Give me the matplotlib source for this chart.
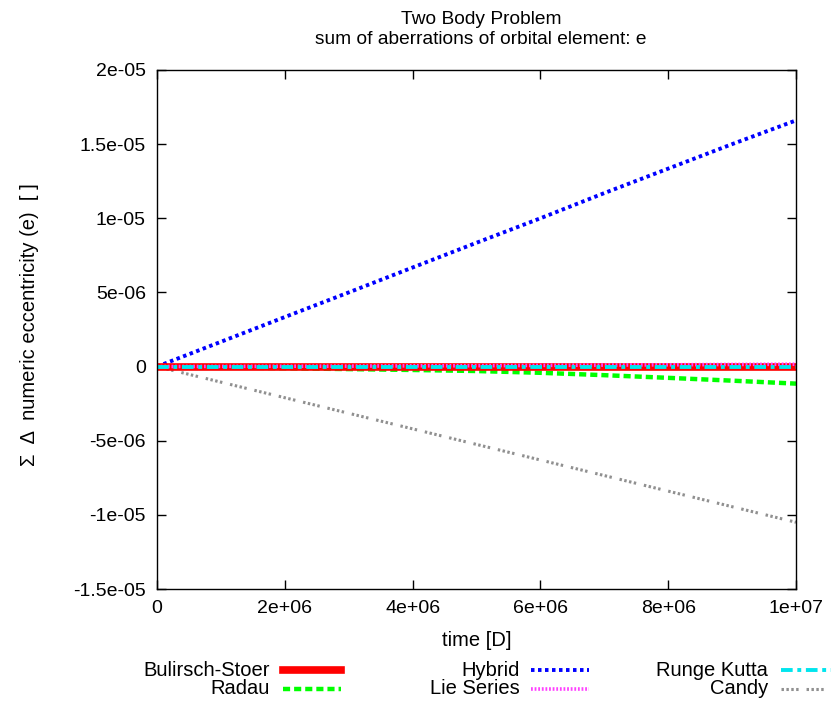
import matplotlib
matplotlib.use("Agg")
from matplotlib import pyplot as plt
from matplotlib.lines import Line2D
from matplotlib.ticker import FormatStrFormatter, MultipleLocator

plt.rcParams['font.family'] = ['Liberation Sans', 'DejaVu Sans']
FS = 14.5

# time in days
time = [0, 1e6, 2e6, 3e6, 4e6, 5e6, 6e6, 7e6, 8e6, 9e6, 1e7]

# sum of eccentricity aberrations per integrator
bulirsch_stoer = [0, 0, 0, 0, 0, 0, 0, 0, 0, 0, 0]
radau = [0, -0.05e-6, -0.11e-6, -0.17e-6, -0.23e-6, -0.30e-6, -0.42e-6, -0.58e-6, -0.76e-6, -0.95e-6, -1.15e-6]
hybrid = [0, 1.67e-6, 3.34e-6, 5.0e-6, 6.68e-6, 8.35e-6, 10.0e-6, 11.7e-6, 13.35e-6, 15.0e-6, 16.6e-6]
lie_series = [0, 0.01e-6, 0.02e-6, 0.03e-6, 0.05e-6, 0.06e-6, 0.08e-6, 0.1e-6, 0.12e-6, 0.14e-6, 0.16e-6]
runge_kutta = [0, 0, 0, 0, 0, 0, 0, 0, 0, 0, 0]
candy = [0, -1.05e-6, -2.1e-6, -3.15e-6, -4.2e-6, -5.25e-6, -6.3e-6, -7.35e-6, -8.4e-6, -9.45e-6, -10.5e-6]

labels = ["Bulirsch-Stoer", "Radau", "Hybrid", "Lie Series", "Runge Kutta", "Candy"]
series = [bulirsch_stoer, radau, hybrid, lie_series, runge_kutta, candy]
styles = [
    dict(color="#ff0000", lw=5.5, ls="-"),
    dict(color="#00ff00", lw=3.2, ls=(0, (1.6, 0.9))),
    dict(color="#0000ff", lw=2.8, ls=(0, (0.9, 0.9))),
    dict(color="#ff40ff", lw=2.6, ls=(0, (0.5, 0.5))),
    dict(color="#00e5ee", lw=2.8, ls=(0, (3.0, 1.2, 1.0, 1.2))),
    dict(color="#909090", lw=2.2, ls=(0, (0.8, 0.8, 0.8, 0.8, 0.8, 0.8, 0.8, 2.6))),
]

W, H = 831, 703
fig = plt.figure(figsize=(W / 100, H / 100), dpi=100)
ax = fig.add_axes([157 / W, 1 - 589 / H, (796 - 157) / W, (589 - 70) / H])

draw_order = [5, 2, 1, 0, 3, 4]
for i in draw_order:
    ax.plot(time, series[i], **styles[i])

ax.set_xlim(0, 1e7)
ax.set_ylim(-1.5e-5, 2e-5)
ax.xaxis.set_major_locator(MultipleLocator(2e6))
ax.yaxis.set_major_locator(MultipleLocator(5e-6))
ax.xaxis.set_major_formatter(FormatStrFormatter('%g'))
ax.yaxis.set_major_formatter(FormatStrFormatter('%g'))
ax.tick_params(direction='in', top=True, right=True, length=6.5, width=1.0,
               labelsize=FS - 0.5, pad=8)
for sp in ax.spines.values():
    sp.set_linewidth(1.0)

ax.set_xlabel("time [D]", fontsize=FS)
ax.xaxis.set_label_coords(0.5, (589 - 640) / 519, transform=ax.transAxes)
ax.xaxis.label.set_va('center')
ax.set_ylabel("Σ  Δ  numeric eccentricity (e)  [ ]", fontsize=FS)
ax.yaxis.set_label_coords((30 - 157) / 639, 0.51)
ax.yaxis.label.set_va('center')

fig.text(481 / W, 1 - 20 / H, "Two Body Problem", ha='center', va='center', fontsize=13.8)
fig.text(481 / W, 1 - 40 / H, "sum of aberrations of orbital element: e",
         ha='center', va='center', fontsize=13.8)

# gnuplot style key below the plot
cols = [(270, 283), (520, 531), (768, 781)]
rows = [670, 689]
for k, (lab, st) in enumerate(zip(labels, styles)):
    c, r = divmod(k, 2)
    tx, sx = cols[c]
    y = 1 - rows[r] / H
    fig.text(tx / W, y, lab, ha='right', va='center', fontsize=FS)
    fig.add_artist(Line2D([sx / W, (sx + 58) / W], [y, y], transform=fig.transFigure, **st))

fig.savefig("out.png", dpi=100)
